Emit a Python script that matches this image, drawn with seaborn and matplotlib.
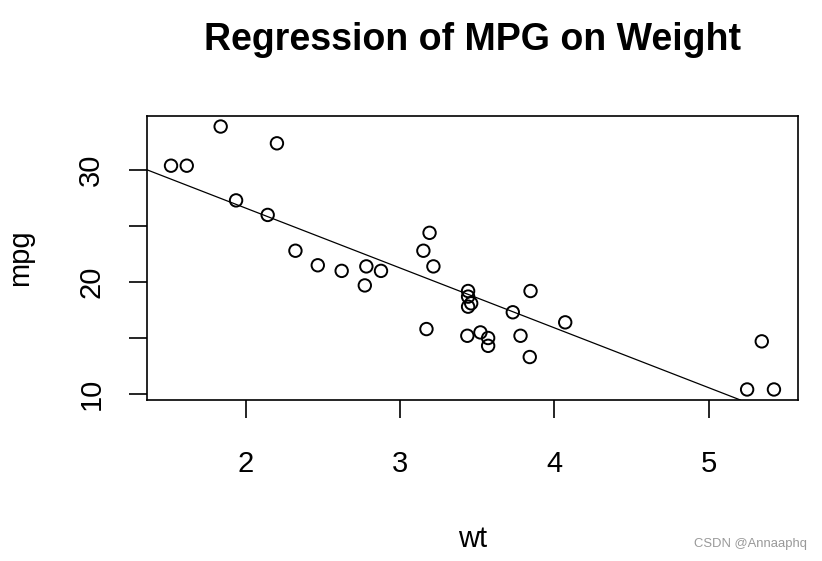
import numpy as np
import pandas as pd
import matplotlib
matplotlib.use("Agg")
import matplotlib.pyplot as plt
import seaborn as sns

# mtcars: weight (1000 lbs) and miles per gallon
wt = [2.620, 2.875, 2.320, 3.215, 3.440, 3.460, 3.570, 3.190, 3.150, 3.440, 3.440,
      4.070, 3.730, 3.780, 5.250, 5.424, 5.345, 2.200, 1.615, 1.835, 2.465, 3.520,
      3.435, 3.840, 3.845, 1.935, 2.140, 1.513, 3.170, 2.770, 3.570, 2.780]
mpg = [21.0, 21.0, 22.8, 21.4, 18.7, 18.1, 14.3, 24.4, 22.8, 19.2, 17.8,
       16.4, 17.3, 15.2, 10.4, 10.4, 14.7, 32.4, 30.4, 33.9, 21.5, 15.5,
       15.2, 13.3, 19.2, 27.3, 26.0, 30.4, 15.8, 19.7, 15.0, 21.4]
x_ticks = [2, 3, 4, 5]
y_ticks = [10, 15, 20, 25, 30]
y_labels = ["10", "", "20", "", "30"]

df = pd.DataFrame({"wt": wt, "mpg": mpg})
slope, intercept = np.polyfit(df["wt"], df["mpg"], 1)

sns.set_style("white")
plt.rcParams["font.family"] = ["Liberation Sans", "DejaVu Sans"]
plt.rcParams["text.color"] = "black"
plt.rcParams["axes.labelcolor"] = "black"
plt.rcParams["xtick.color"] = "black"
plt.rcParams["ytick.color"] = "black"

fig = plt.figure(figsize=(8.22, 5.61), dpi=100)
ax = fig.add_axes([0.1788, 0.2870, 0.7920, 0.5062])

sns.scatterplot(data=df, x="wt", y="mpg", ax=ax, s=80, facecolors="none",
                edgecolor="black", linewidth=1.4)
ax.axline((0, intercept), slope=slope, color="black", linewidth=0.9)

ax.set_xlim(1.357, 5.580)
ax.set_ylim(9.46, 34.84)
ax.set_xticks(x_ticks)
ax.set_yticks(y_ticks)
ax.set_yticklabels(y_labels, rotation=90, va="center")
ax.tick_params(axis="both", direction="out", length=13, width=1.2, labelsize=21,
               left=True, bottom=True)
ax.tick_params(axis="x", pad=23)
ax.tick_params(axis="y", pad=17)
for s in ax.spines.values():
    s.set_color("black")
    s.set_linewidth(1.2)

ax.set_xlabel("wt", fontsize=21, labelpad=34)
ax.set_ylabel("mpg", fontsize=21, labelpad=31)
fig.text(0.575, 0.929, "Regression of MPG on Weight", fontsize=27,
         fontweight="bold", ha="center", va="center")
fig.text(0.982, 0.030, "CSDN @Annaaphq", fontsize=9.4, color="#999999",
         ha="right", va="center")

fig.savefig("out.png", dpi=100)
